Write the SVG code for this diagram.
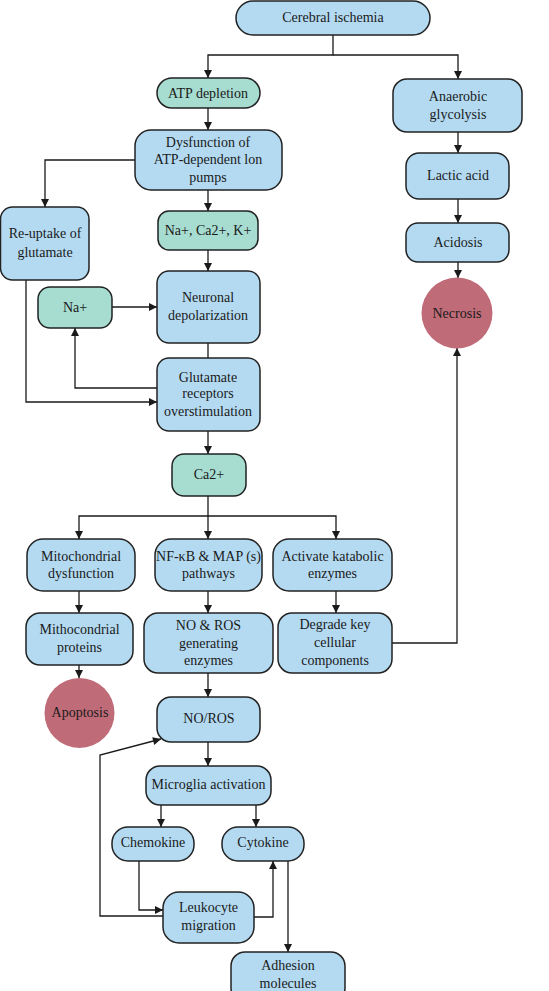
<svg xmlns="http://www.w3.org/2000/svg" width="549" height="991" viewBox="0 0 549 991">
<defs>
<marker id="ah" viewBox="0 0 10 10" refX="10" refY="5" markerWidth="9" markerHeight="8" markerUnits="userSpaceOnUse" orient="auto">
<path d="M0,0 L10,5 L0,10 z" fill="#1a1a1a"/>
</marker>
<style>
.b{fill:#b4daf2;stroke:#222;stroke-width:1.5}
.g{fill:#a7dcd0;stroke:#222;stroke-width:1.5}
.r{fill:#bf6b78;stroke:none}
text{font-family:"Liberation Serif","Times New Roman",serif;font-size:14px;fill:#1a1a1a;text-anchor:middle}
.c path{fill:none;stroke:#1a1a1a;stroke-width:1.3}
.c .a{marker-end:url(#ah)}
</style>
</defs>
<rect width="549" height="991" fill="#fff"/>
<g class="c" id="connectors">
<path class="a" d="M333,35 V55 H208 V78"/>
<path class="a" d="M333,55 H458 V79"/>
<path class="a" d="M208,108 V130"/>
<path class="a" d="M135,160 H45 V207"/>
<path class="a" d="M208,190 V211"/>
<path class="a" d="M208,250 V271"/>
<path d="M208,343 V358"/>
<path class="a" d="M112,307 H157"/>
<path class="a" d="M157,388 H75 V328"/>
<path class="a" d="M26,280 V402 H157"/>
<path class="a" d="M458,132 V153"/>
<path class="a" d="M458,199 V223"/>
<path class="a" d="M458,262 V278"/>
<path class="a" d="M392,643 H457 V348"/>
<path class="a" d="M208,431 V454"/>
<path class="a" d="M208,496 V539"/>
<path class="a" d="M208,516 H79 V539"/>
<path class="a" d="M208,516 H336 V539"/>
<path class="a" d="M79,591 V613"/>
<path class="a" d="M208,591 V613"/>
<path class="a" d="M336,591 V613"/>
<path class="a" d="M79,665 V678"/>
<path class="a" d="M208,673 V697"/>
<path class="a" d="M208,742 V766"/>
<path class="a" d="M161,805 V827"/>
<path class="a" d="M256,805 V827"/>
<path class="a" d="M139,861 V910 H163"/>
<path class="a" d="M254,917 H273 V861"/>
<path class="a" d="M163,916 H100 V755 L161,739"/>
<path class="a" d="M288,861 V952"/>
</g>
<g id="n-cerebral"><rect class="b" x="236" y="1" width="194" height="34" rx="17"/><text x="333" y="22">Cerebral ischemia</text></g>
<g id="n-atp"><rect class="g" x="157" y="78" width="103" height="30" rx="15"/><text x="208" y="98">ATP depletion</text></g>
<g id="n-anaerobic"><rect class="b" x="393" y="79" width="129" height="53" rx="14"/><text x="458" y="101">Anaerobic</text><text x="458" y="119">glycolysis</text></g>
<g id="n-dysfunction"><rect class="b" x="135" y="130" width="147" height="60" rx="16"/><text x="208" y="147">Dysfunction of</text><text x="208" y="164">ATP-dependent lon</text><text x="208" y="182">pumps</text></g>
<g id="n-lactic"><rect class="b" x="406" y="153" width="103" height="46" rx="13"/><text x="458" y="180">Lactic acid</text></g>
<g id="n-reuptake"><rect class="b" x="0.5" y="207" width="88.5" height="73" rx="12"/><text x="45" y="238">Re-uptake of</text><text x="45" y="257">glutamate</text></g>
<g id="n-nacak"><rect class="g" x="158" y="211" width="100" height="39" rx="11"/><text x="208" y="235">Na+, Ca2+, K+</text></g>
<g id="n-acidosis"><rect class="b" x="406" y="223" width="103" height="39" rx="12"/><text x="458" y="247">Acidosis</text></g>
<g id="n-neuronal"><rect class="b" x="157" y="271" width="103" height="72" rx="12"/><text x="208" y="302">Neuronal</text><text x="208" y="320">depolarization</text></g>
<g id="n-na"><rect class="g" x="38" y="287" width="74" height="41" rx="12"/><text x="75" y="312">Na+</text></g>
<g id="n-necrosis"><circle class="r" cx="457" cy="313" r="35.5"/><text x="457" y="318">Necrosis</text></g>
<g id="n-glutamate"><rect class="b" x="157" y="358" width="103" height="73" rx="12"/><text x="208" y="382">Glutamate</text><text x="208" y="398">receptors</text><text x="208" y="416">overstimulation</text></g>
<g id="n-ca"><rect class="g" x="172" y="454" width="74" height="42" rx="12"/><text x="209" y="479">Ca2+</text></g>
<g id="n-mitodys"><rect class="b" x="27" y="539" width="108" height="52" rx="16"/><text x="81" y="561">Mitochondrial</text><text x="81" y="578">dysfunction</text></g>
<g id="n-nfkb"><rect class="b" x="155" y="539" width="107" height="52" rx="16"/><text x="208.5" y="561">NF-κB &amp; MAP (s)</text><text x="208.5" y="578">pathways</text></g>
<g id="n-activate"><rect class="b" x="273" y="539" width="119" height="52" rx="16"/><text x="332.5" y="561">Activate katabolic</text><text x="332.5" y="578">enzymes</text></g>
<g id="n-mithoprot"><rect class="b" x="26" y="613" width="107" height="52" rx="14"/><text x="79.5" y="634">Mithocondrial</text><text x="79.5" y="652">proteins</text></g>
<g id="n-noros-enz"><rect class="b" x="144" y="613" width="129" height="60" rx="14"/><text x="208.5" y="630">NO &amp; ROS</text><text x="208.5" y="648">generating</text><text x="208.5" y="665">enzymes</text></g>
<g id="n-degrade"><rect class="b" x="278" y="613" width="114" height="60" rx="14"/><text x="335" y="629">Degrade key</text><text x="335" y="647">cellular</text><text x="335" y="665">components</text></g>
<g id="n-apoptosis"><circle class="r" cx="79.5" cy="713" r="35"/><text x="80" y="717">Apoptosis</text></g>
<g id="n-noros"><rect class="b" x="157" y="697" width="103" height="45" rx="14"/><text x="209" y="723">NO/ROS</text></g>
<g id="n-microglia"><rect class="b" x="146" y="766" width="125" height="39" rx="14"/><text x="208.5" y="789">Microglia activation</text></g>
<g id="n-chemokine"><rect class="b" x="112" y="827" width="82" height="34" rx="16"/><text x="153" y="847">Chemokine</text></g>
<g id="n-cytokine"><rect class="b" x="222" y="827" width="82" height="34" rx="16"/><text x="263" y="847">Cytokine</text></g>
<g id="n-leukocyte"><rect class="b" x="163" y="892" width="91" height="51" rx="16"/><text x="208.5" y="912">Leukocyte</text><text x="208.5" y="930">migration</text></g>
<g id="n-adhesion"><rect class="b" x="231" y="952" width="114" height="50" rx="14"/><text x="288" y="970">Adhesion</text><text x="288" y="988">molecules</text></g>
</svg>
